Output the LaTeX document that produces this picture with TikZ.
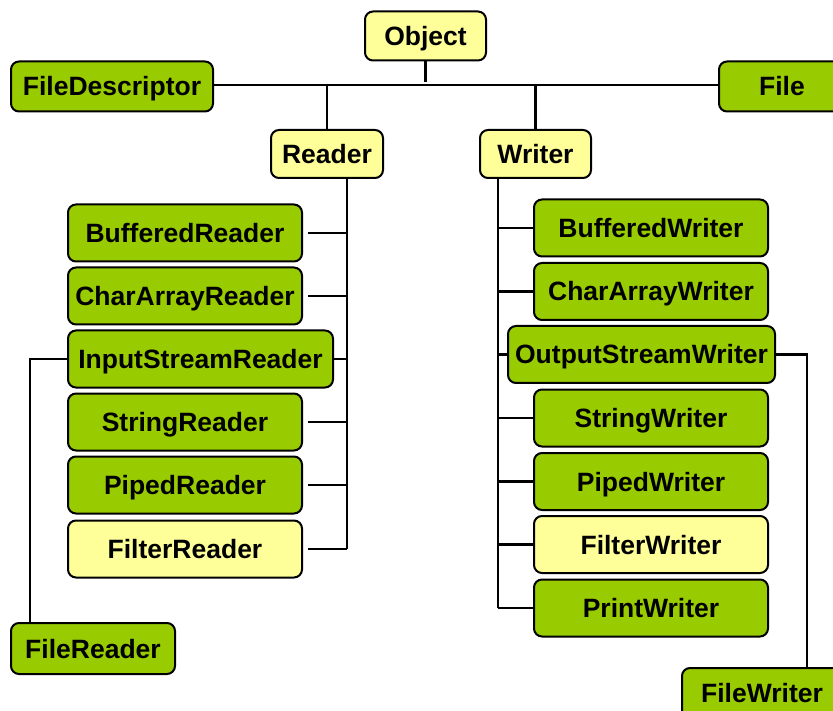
\documentclass[tikz,border=0pt]{standalone}
\usepackage{fontspec}
\setmainfont{Liberation Sans}
\definecolor{boxgreen}{HTML}{99CC00}
\definecolor{boxyellow}{HTML}{FFFF99}
\begin{document}
\begin{tikzpicture}[x=1pt,y=-1pt,
  cls/.style={draw=black, line width=2pt, rounded corners=8pt, inner sep=0pt,
    text height=19pt, text depth=0pt,
    font=\fontsize{26.5}{30}\selectfont\bfseries, text=black, anchor=center},
  gbox/.style={cls, fill=boxgreen},
  ybox/.style={cls, fill=boxyellow},
  conn/.style={draw=black, line width=2.8pt}]
\useasboundingbox (0,0) rectangle (833,711);
\fill[white] (0,0) rectangle (833,711);
% top
\node[ybox, minimum width=121pt, minimum height=49pt] (Object) at (425.5,36) {Object};
\node[gbox, minimum width=202pt, minimum height=50pt] (FileDescriptor) at (112,86.5) {FileDescriptor};
\node[gbox, minimum width=126pt, minimum height=50pt] (File) at (782,86.5) {File};
\node[ybox, minimum width=112pt, minimum height=48pt] (Reader) at (327,154) {Reader};
\node[ybox, minimum width=111pt, minimum height=48pt] (Writer) at (535.5,154) {Writer};
% reader children
\node[gbox, minimum width=234pt, minimum height=57pt] (BufferedReader) at (185,233) {BufferedReader};
\node[gbox, minimum width=234pt, minimum height=57pt] (CharArrayReader) at (185,296) {CharArrayReader};
\node[gbox, minimum width=265pt, minimum height=57pt] (InputStreamReader) at (200.5,359) {InputStreamReader};
\node[gbox, minimum width=234pt, minimum height=57pt] (StringReader) at (185,422) {StringReader};
\node[gbox, minimum width=234pt, minimum height=57pt] (PipedReader) at (185,485) {PipedReader};
\node[ybox, minimum width=234pt, minimum height=57pt] (FilterReader) at (185,549) {FilterReader};
\node[gbox, minimum width=164pt, minimum height=51pt] (FileReader) at (93,648.5) {FileReader};
% writer children
\node[gbox, minimum width=234pt, minimum height=57pt] (BufferedWriter) at (651,228) {BufferedWriter};
\node[gbox, minimum width=234pt, minimum height=57pt] (CharArrayWriter) at (651,291.5) {CharArrayWriter};
\node[gbox, minimum width=267pt, minimum height=57pt] (OutputStreamWriter) at (641.5,354.5) {OutputStreamWriter};
\node[gbox, minimum width=234pt, minimum height=57pt] (StringWriter) at (651,418) {StringWriter};
\node[gbox, minimum width=234pt, minimum height=57pt] (PipedWriter) at (651,481.5) {PipedWriter};
\node[ybox, minimum width=234pt, minimum height=57pt] (FilterWriter) at (651,544.5) {FilterWriter};
\node[gbox, minimum width=234pt, minimum height=57pt] (PrintWriter) at (651,608) {PrintWriter};
\node[gbox, minimum width=160pt, minimum height=50pt] (FileWriter) at (762,693) {FileWriter};
% helper coordinates
\coordinate (hline) at (0,85);
\coordinate (rbus) at (347,0);
\coordinate (wbus) at (498,0);
\coordinate (frx) at (30,0);
\coordinate (fwx) at (807,0);
% top connectors
\draw[conn] (FileDescriptor.east |- hline) -- (File.west |- hline);
\draw[conn] (Object.south) -- ([yshift=3pt]Object.south |- hline);
\draw[conn] (Reader.north) -- (Reader.north |- hline);
\draw[conn] (Writer.north) -- (Writer.north |- hline);
% reader bus
\draw[conn] (Reader.south -| rbus) -- (FilterReader.east -| rbus);
\foreach \n in {BufferedReader,CharArrayReader,StringReader,PipedReader,FilterReader}
  \draw[conn] ([xshift=5pt]\n.east) -- (\n.east -| rbus);
\draw[conn] (InputStreamReader.east) -- (InputStreamReader.east -| rbus);
\draw[conn] (InputStreamReader.west) -| (FileReader.north -| frx);
% writer bus
\draw[conn] (Writer.south -| wbus) -- (PrintWriter.west -| wbus);
\foreach \n in {BufferedWriter,CharArrayWriter,OutputStreamWriter,StringWriter,PipedWriter,FilterWriter,PrintWriter}
  \draw[conn] (\n.west -| wbus) -- (\n.west);
\draw[conn] (OutputStreamWriter.east) -| (FileWriter.north -| fwx);
\end{tikzpicture}
\end{document}
